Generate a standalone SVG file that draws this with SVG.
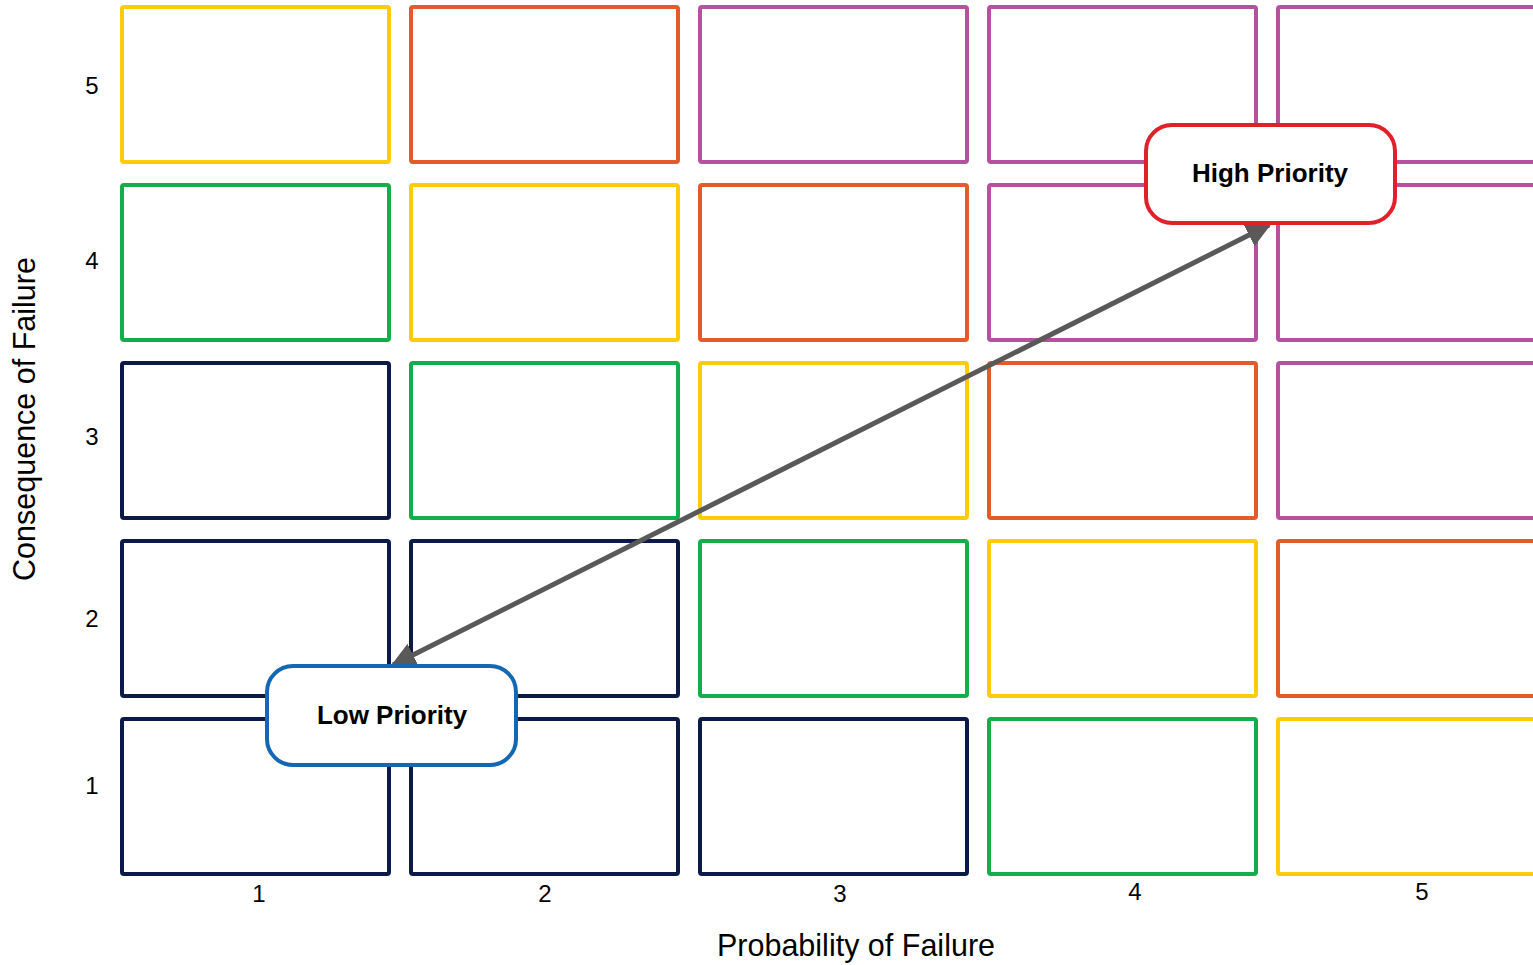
<svg xmlns="http://www.w3.org/2000/svg" width="1533" height="965" viewBox="0 0 1533 965">
<style>
.c{fill:none;stroke-width:4;}
.y{stroke:#fecb0a;}
.o{stroke:#e35b2a;}
.p{stroke:#b5519f;}
.g{stroke:#13ae4b;}
.n{stroke:#0c1a48;}
.ax{font-family:"Liberation Sans",Arial,sans-serif;font-size:24px;fill:#000;text-anchor:middle;}
.lab{font-family:"Liberation Sans",Arial,sans-serif;font-size:30.5px;fill:#000;text-anchor:middle;}
.bl{font-family:"Liberation Sans",Arial,sans-serif;font-size:26px;font-weight:bold;fill:#000;text-anchor:middle;}
</style>
<defs>
<marker id="ah" viewBox="0 0 10 10" refX="9" refY="5" markerWidth="5" markerHeight="5" orient="auto-start-reverse" markerUnits="strokeWidth">
<path d="M0,0 L10,5 L0,10 z" fill="#595959"/>
</marker>
</defs>
<rect width="1533" height="965" fill="#fff"/>
<g id="grid">
<rect id="r5c1" class="c y" x="122" y="7" width="267" height="155" rx="2"/>
<rect id="r5c2" class="c o" x="411" y="7" width="267" height="155" rx="2"/>
<rect id="r5c3" class="c p" x="700" y="7" width="267" height="155" rx="2"/>
<rect id="r5c4" class="c p" x="989" y="7" width="267" height="155" rx="2"/>
<rect id="r5c5" class="c p" x="1278" y="7" width="267" height="155" rx="2"/>
<rect id="r4c1" class="c g" x="122" y="185" width="267" height="155" rx="2"/>
<rect id="r4c2" class="c y" x="411" y="185" width="267" height="155" rx="2"/>
<rect id="r4c3" class="c o" x="700" y="185" width="267" height="155" rx="2"/>
<rect id="r4c4" class="c p" x="989" y="185" width="267" height="155" rx="2"/>
<rect id="r4c5" class="c p" x="1278" y="185" width="267" height="155" rx="2"/>
<rect id="r3c1" class="c n" x="122" y="363" width="267" height="155" rx="2"/>
<rect id="r3c2" class="c g" x="411" y="363" width="267" height="155" rx="2"/>
<rect id="r3c3" class="c y" x="700" y="363" width="267" height="155" rx="2"/>
<rect id="r3c4" class="c o" x="989" y="363" width="267" height="155" rx="2"/>
<rect id="r3c5" class="c p" x="1278" y="363" width="267" height="155" rx="2"/>
<rect id="r2c1" class="c n" x="122" y="541" width="267" height="155" rx="2"/>
<rect id="r2c2" class="c n" x="411" y="541" width="267" height="155" rx="2"/>
<rect id="r2c3" class="c g" x="700" y="541" width="267" height="155" rx="2"/>
<rect id="r2c4" class="c y" x="989" y="541" width="267" height="155" rx="2"/>
<rect id="r2c5" class="c o" x="1278" y="541" width="267" height="155" rx="2"/>
<rect id="r1c1" class="c n" x="122" y="719" width="267" height="155" rx="2"/>
<rect id="r1c2" class="c n" x="411" y="719" width="267" height="155" rx="2"/>
<rect id="r1c3" class="c n" x="700" y="719" width="267" height="155" rx="2"/>
<rect id="r1c4" class="c g" x="989" y="719" width="267" height="155" rx="2"/>
<rect id="r1c5" class="c y" x="1278" y="719" width="267" height="155" rx="2"/>
</g>
<g id="axes">
<text class="ax" x="92" y="94">5</text>
<text class="ax" x="92" y="269">4</text>
<text class="ax" x="92" y="445">3</text>
<text class="ax" x="92" y="627">2</text>
<text class="ax" x="92" y="794">1</text>
<text class="ax" x="259" y="902">1</text>
<text class="ax" x="545" y="902">2</text>
<text class="ax" x="840" y="902">3</text>
<text class="ax" x="1135" y="900">4</text>
<text class="ax" x="1422" y="900">5</text>
<text class="lab" x="856" y="956">Probability of Failure</text>
<text class="lab" transform="translate(35,419) rotate(-90)">Consequence of Failure</text>
</g>
<g id="connectors">
<line x1="1269" y1="225" x2="393" y2="665" stroke="#595959" stroke-width="5" marker-start="url(#ah)" marker-end="url(#ah)"/>
</g>
<g id="high">
<rect x="1146" y="125" width="249" height="98" rx="26" fill="#fff" stroke="#e0202b" stroke-width="4"/>
<text class="bl" x="1270" y="182">High Priority</text>
</g>
<g id="low">
<rect x="267" y="666" width="249" height="99" rx="26" fill="#fff" stroke="#1467b3" stroke-width="4"/>
<text class="bl" x="392" y="724">Low Priority</text>
</g>
</svg>
